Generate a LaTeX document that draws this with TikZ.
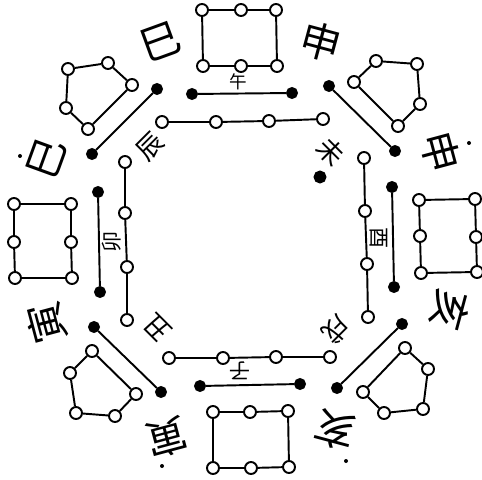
\documentclass[tikz,border=0pt]{standalone}
\usepackage{fontspec}
\newfontfamily\cjk{Noto Sans CJK SC}
\begin{document}
\begin{tikzpicture}[
x=0.02cm,y=-0.02cm,
open/.style={
circle,draw,fill=white,
line width=1.1pt,inner sep=0pt,
minimum size=0.24cm
},
dot/.style={
circle,draw,fill=black,
line width=1.1pt,inner sep=0pt,
minimum size=0.2cm
},
speck/.style={circle,fill=black,inner sep=0pt,minimum size=0.08cm},
link/.style={line width=1.1pt},
outer/.style={font=\cjk\fontsize{23}{23}\selectfont,inner sep=0pt},
inner/.style={font=\cjk\fontsize{12}{12}\selectfont,inner sep=0pt},
slant/.style={font=\cjk\fontsize{15}{15}\selectfont,inner sep=0pt}
]
\useasboundingbox (0,0) rectangle (482,479);

% =======================
% SQUARES (SIX)
% =======================

\node[open] (t1) at (202,10) {};
\node[open] (t2) at (241,10) {};
\node[open] (t3) at (276,10) {};
\node[open] (t4) at (277,66) {};
\node[open] (t5) at (241,66) {};
\node[open] (t6) at (203,66) {};

\node[open] (r1) at (419,200) {};
\node[open] (r2) at (475,199) {};
\node[open] (r3) at (476,237) {};
\node[open] (r4) at (477,272) {};
\node[open] (r5) at (421,273) {};
\node[open] (r6) at (420,236) {};

\node[open] (b1) at (213,412) {};
\node[open] (b2) at (250,412) {};
\node[open] (b3) at (288,411) {};
\node[open] (b4) at (289,467) {};
\node[open] (b5) at (251,468) {};
\node[open] (b6) at (213,468) {};

\node[open] (l1) at (14,204) {};
\node[open] (l2) at (71,204) {};
\node[open] (l3) at (71,242) {};
\node[open] (l4) at (72,278) {};
\node[open] (l5) at (15,278) {};
\node[open] (l6) at (14,242) {};

% =======================
% PENTAGONS (FIVE)
% =======================

\node[open] (p11) at (68,69) {};
\node[open] (p12) at (108,63) {};
\node[open] (p13) at (132,85) {};
\node[open] (p14) at (88,129) {};
\node[open] (p15) at (66,108) {};

\node[open] (p21) at (354,82) {};
\node[open] (p22) at (376,61) {};
\node[open] (p23) at (417,64) {};
\node[open] (p24) at (420,104) {};
\node[open] (p25) at (398,126) {};

\node[open] (p31) at (405,348) {};
\node[open] (p32) at (428,369) {};
\node[open] (p33) at (423,409) {};
\node[open] (p34) at (384,413) {};
\node[open] (p35) at (363,392) {};

\node[open] (p41) at (92,351) {};
\node[open] (p42) at (70,373) {};
\node[open] (p43) at (76,413) {};
\node[open] (p44) at (115,416) {};
\node[open] (p45) at (136,394) {};

% =======================
% INNER RING
% =======================

\node[dot] (u1) at (192,94) {};
\node[dot] (u2) at (292,93) {};
\node[open] (o11) at (162,122) {};
\node[open] (o12) at (216,122) {};
\node[open] (o13) at (269,121) {};
\node[open] (o14) at (323,119) {};

\node[dot] (v1) at (392,187) {};
\node[dot] (v2) at (394,287) {};
\node[open] (o21) at (364,158) {};
\node[open] (o22) at (365,211) {};
\node[open] (o23) at (367,264) {};
\node[open] (o24) at (368,317) {};

\node[dot] (w1) at (200,386) {};
\node[dot] (w2) at (300,384) {};
\node[open] (o31) at (169,358) {};
\node[open] (o32) at (223,358) {};
\node[open] (o33) at (276,357) {};
\node[open] (o34) at (330,357) {};

\node[dot] (z1) at (98,192) {};
\node[dot] (z2) at (100,292) {};
\node[open] (o41) at (125,162) {};
\node[open] (o42) at (125,213) {};
\node[open] (o43) at (127,267) {};
\node[open] (o44) at (127,320) {};

\node[dot] (d11) at (157,89) {};
\node[dot] (d12) at (92,154) {};
\node[dot] (d21) at (329,86) {};
\node[dot] (d22) at (395,151) {};
\node[dot] (d31) at (402,324) {};
\node[dot] (d32) at (337,388) {};
\node[dot] (d41) at (94,327) {};
\node[dot] (d42) at (161,392) {};

\node[dot,minimum size=0.22cm] (mid) at (320,177) {};

% =======================
% LINES
% =======================

\draw[link] (t1) -- (t2) -- (t3) -- (t4) -- (t5) -- (t6) -- (t1);
\draw[link] (r1) -- (r2) -- (r3) -- (r4) -- (r5) -- (r6) -- (r1);
\draw[link] (b1) -- (b2) -- (b3) -- (b4) -- (b5) -- (b6) -- (b1);
\draw[link] (l1) -- (l2) -- (l3) -- (l4) -- (l5) -- (l6) -- (l1);

\draw[link] (p11) -- (p12) -- (p13) -- (p14) -- (p15) -- (p11);
\draw[link] (p21) -- (p22) -- (p23) -- (p24) -- (p25) -- (p21);
\draw[link] (p31) -- (p32) -- (p33) -- (p34) -- (p35) -- (p31);
\draw[link] (p41) -- (p42) -- (p43) -- (p44) -- (p45) -- (p41);

\draw[link] (u1) -- (u2);
\draw[link] (v1) -- (v2);
\draw[link] (w1) -- (w2);
\draw[link] (z1) -- (z2);
\draw[link] (o11) -- (o12) -- (o13) -- (o14);
\draw[link] (o21) -- (o22) -- (o23) -- (o24);
\draw[link] (o31) -- (o32) -- (o33) -- (o34);
\draw[link] (o41) -- (o42) -- (o43) -- (o44);

\draw[link] (d11) -- (d12);
\draw[link] (d21) -- (d22);
\draw[link] (d31) -- (d32);
\draw[link] (d41) -- (d42);

% =======================
% LABELS
% =======================

\node[inner,font=\cjk\fontsize{10}{10}\selectfont] (wu) at (238,82) {午};
\node[slant,rotate=-45] (wei) at (331,152) {未};
\node[inner,rotate=-90] (you) at (379,238) {酉};
\node[slant,rotate=-135] (xu) at (336,330) {戌};
\node[inner,rotate=180] (zi) at (240,371) {子};
\node[slant,rotate=135] (chou) at (157,328) {丑};
\node[inner,rotate=90] (mao) at (112,242) {卯};
\node[slant,rotate=45] (chen) at (150,147) {辰};

\node[outer,rotate=20] (si1) at (160,42) {巳};
\node[outer,rotate=70] (si2) at (47,158) {巳};
\node[outer,rotate=-15] (shen1) at (321,42) {申};
\node[outer,rotate=-75] (shen2) at (441,152) {申};
\node[outer,rotate=-105] (hai1) at (450,310) {亥};
\node[outer,rotate=165] (hai2) at (335,430) {亥};
\node[outer,rotate=105] (yin1) at (46,323) {寅};
\node[outer,rotate=-165] (yin2) at (167,438) {寅};

\node[speck] (s1) at (20,156) {};
\node[speck] (s2) at (469,143) {};
\node[speck] (s3) at (346,461) {};
\node[speck] (s4) at (162,466) {};

\end{tikzpicture}
\end{document}
